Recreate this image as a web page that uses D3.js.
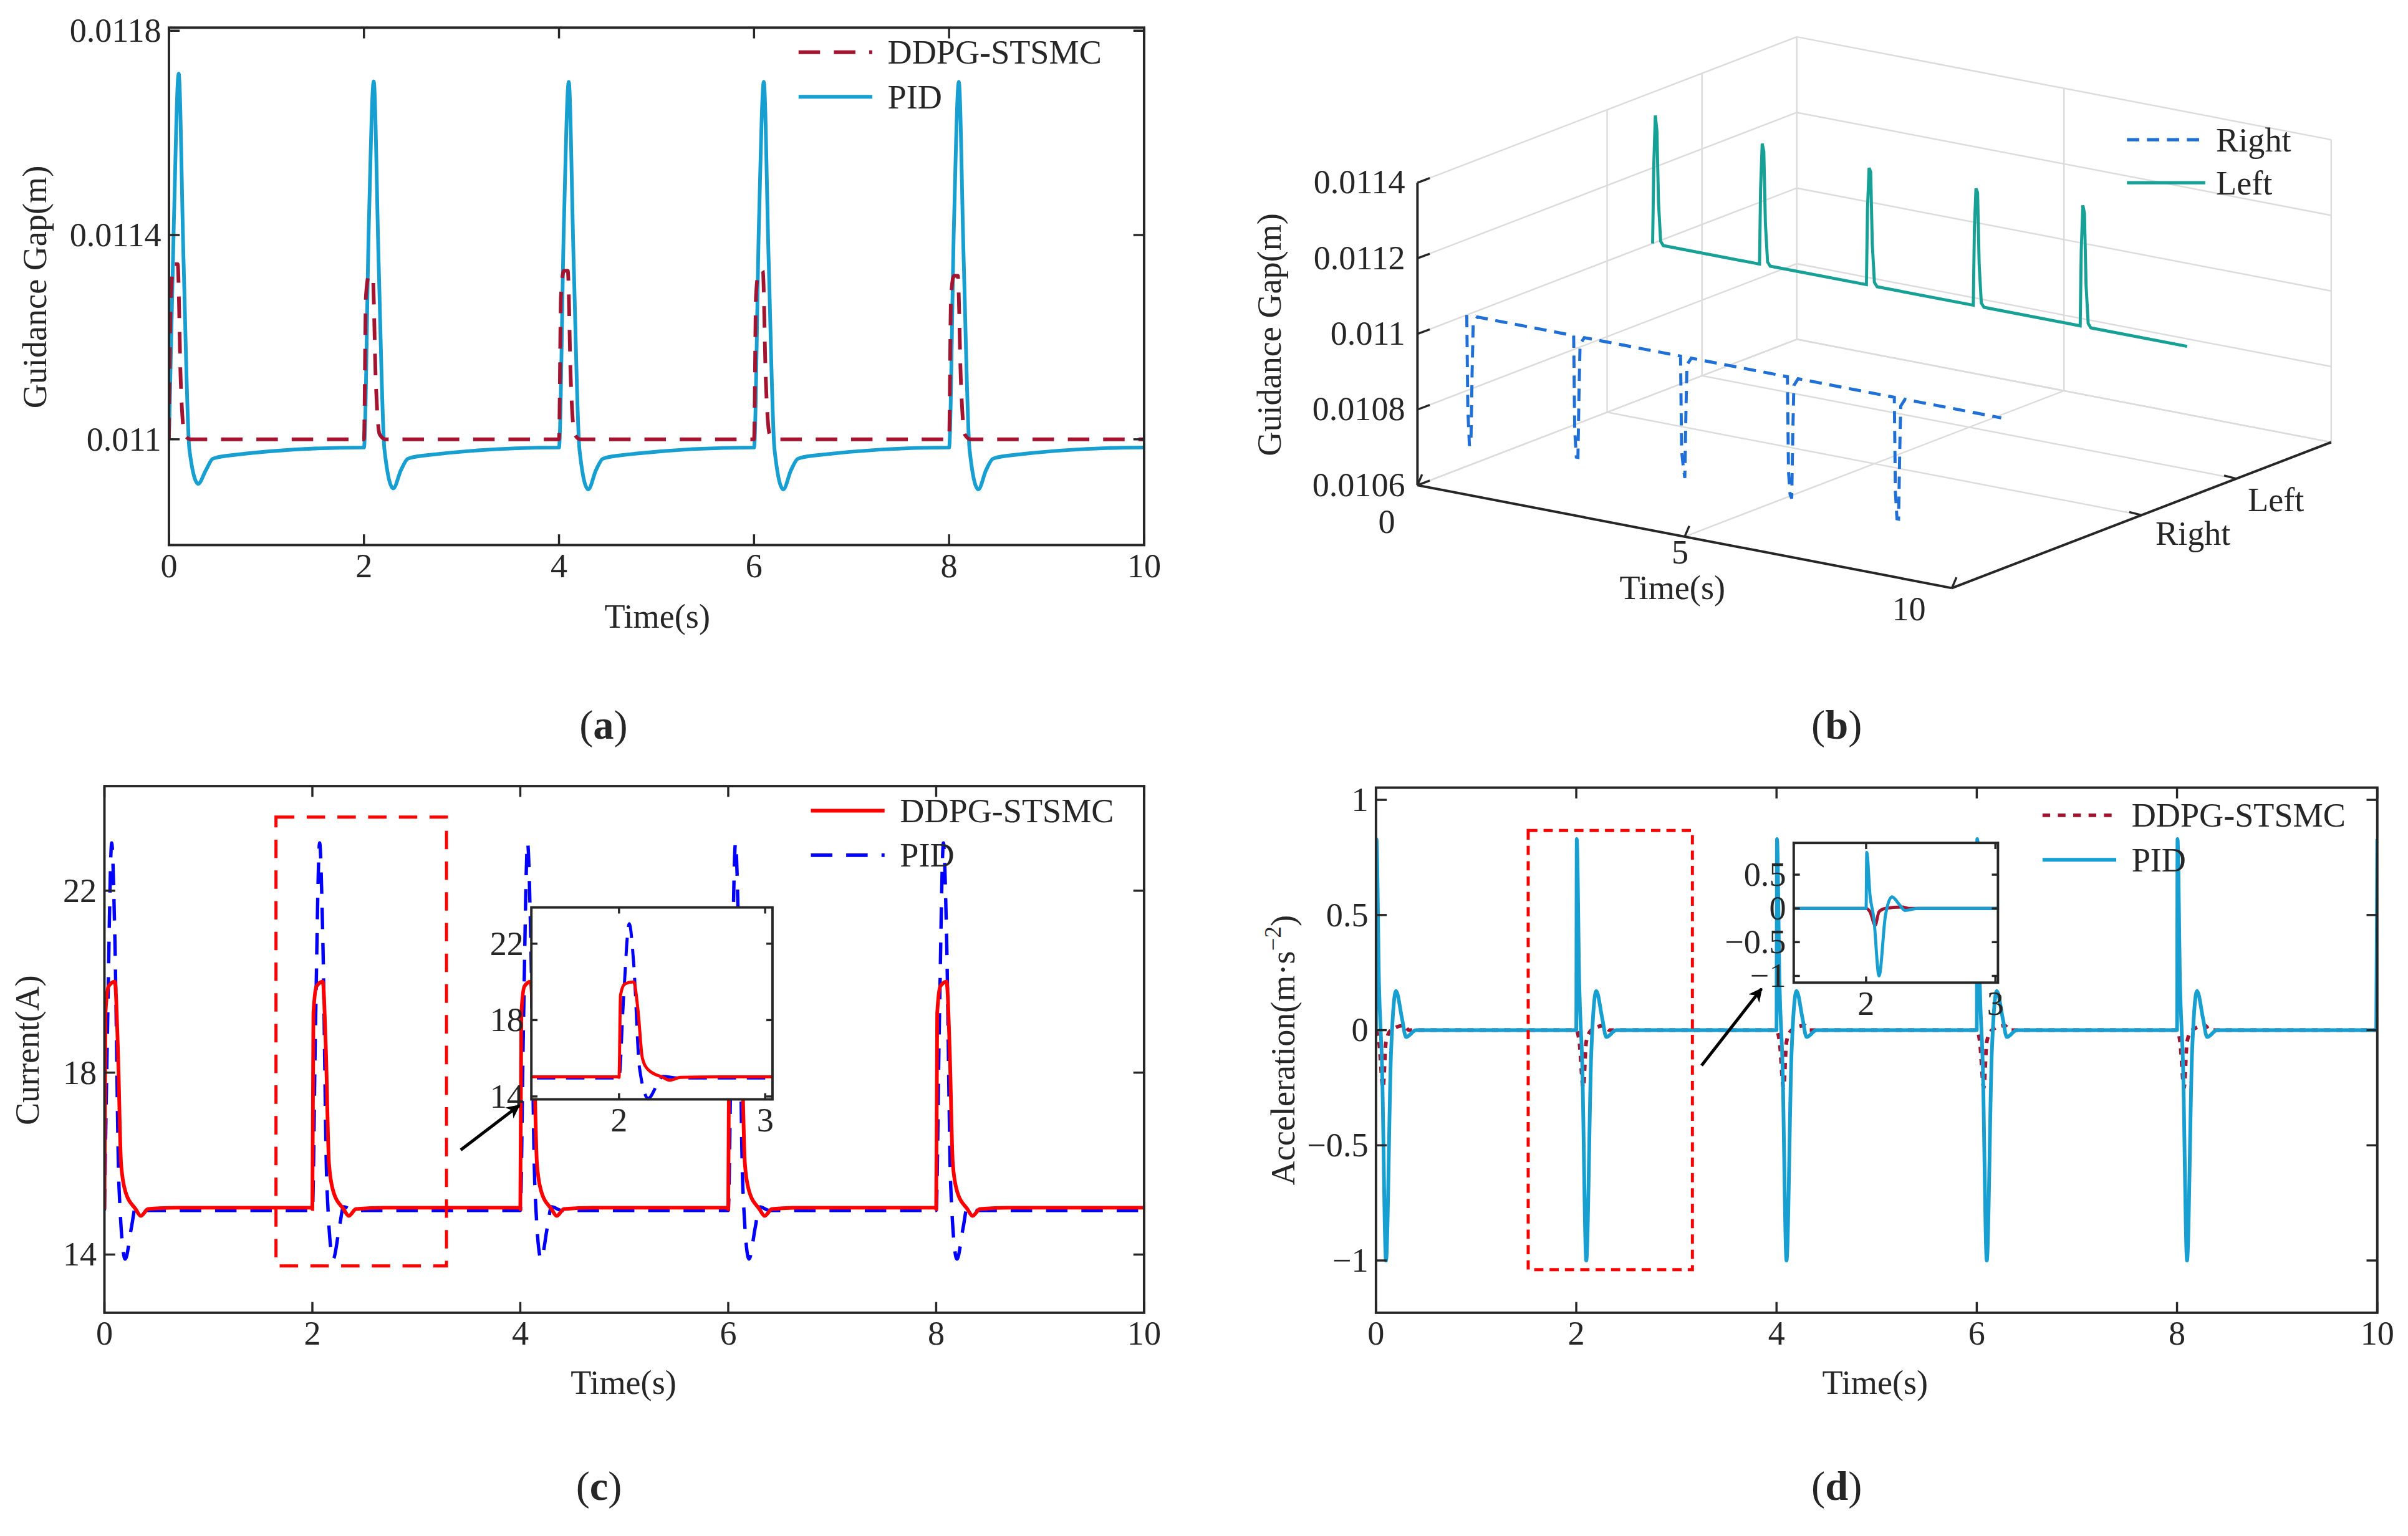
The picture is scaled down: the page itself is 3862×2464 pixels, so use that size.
<!DOCTYPE html>
<html>
<head>
<meta charset="utf-8">
<script src="https://cdn.jsdelivr.net/npm/d3@7"></script>
<style>
  html, body { margin: 0; padding: 0; background: #fff; }
  text { font-family: "Liberation Serif", "Times New Roman", serif; fill: #262626; }
</style>
</head>
<body>
<div id="chart"></div>
<script>
// ---- data ----
const pulseStarts = [0, 2, 4, 6, 8];
const timeTicks = [0, 2, 4, 6, 8, 10];

// (a) guidance gap
const gapDdpgOffsets = [0, 0.02, 0.05, 0.09, 0.12, 0.16, 0.22];
const gapDdpgValues  = [0.011, 0.01128, 0.01133, 0.01133, 0.01112, 0.01101, 0.011];
const gapDdpgPeaks   = [0.011343, 0.01132, 0.01133, 0.01133, 0.01132];
const gapPidOffsets  = [0, 0.05, 0.1, 0.15, 0.21, 0.3, 0.38, 0.45, 0.6, 1.99];
const gapPidValues   = [0.010984, 0.01142, 0.0117, 0.01135, 0.01098, 0.01091, 0.01094, 0.010962, 0.010968, 0.010984];
const gapPidPeaks    = [0.011716, 0.011701, 0.0117, 0.0117, 0.0117];
const gapPidMins     = [0.010913, 0.010904, 0.010902, 0.010902, 0.010902];
const gapTicks = [0.011, 0.0114, 0.0118];

// (b) 3D left / right gaps
const rightOffsets = [0, 0.02, 0.05, 0.08, 0.1, 0.12, 0.2];
const rightValues  = [0.011, 0.01075, 0.01067, 0.01068, 0.01085, 0.01098, 0.011];
const rightDips    = [0.010655, 0.01068, 0.01071, 0.01069, 0.01068];
const leftOffsets  = [0, 0.02, 0.05, 0.08, 0.11, 0.15, 0.2];
const leftValues   = [0.011, 0.0112, 0.01133, 0.0113, 0.01111, 0.01101, 0.011];
const leftPeaks    = [0.01134, 0.01132, 0.01131, 0.01131, 0.01132];
const gap3dTicks = [0.0106, 0.0108, 0.011, 0.0112, 0.0114];
const sideLabels = ["Right", "Left"];

// (c) current
const curDdpgOffsets = [0, 0.01, 0.04, 0.1, 0.13, 0.16, 0.2, 0.3, 0.35, 0.42, 0.7, 1.99];
const curDdpgValues  = [15.0, 19.3, 19.9, 20.0, 18.5, 16.0, 15.4, 15.0, 14.85, 15.0, 15.03, 15.03];
const curPidOffsets  = [0, 0.03, 0.07, 0.1, 0.14, 0.2, 0.26, 0.3, 0.4, 1.99];
const curPidValues   = [14.97, 19.0, 23.05, 21.0, 15.5, 13.9, 14.6, 15.05, 14.97, 14.97];
const curTicks = [14, 18, 22];

// (d) acceleration
const accPidOffsets  = [0, 0.005, 0.03, 0.06, 0.1, 0.15, 0.2, 0.26, 0.3, 0.4, 1.99];
const accPidValues   = [0, 0.83, 0.2, -0.15, -1.0, -0.1, 0.17, 0.05, -0.03, 0, 0];
const accDdpgOffsets = [0, 0.03, 0.07, 0.1, 0.15, 0.28, 0.33, 1.99];
const accDdpgValues  = [0, -0.05, -0.25, -0.05, 0, 0.02, 0, 0];
const accTicks = [-1, -0.5, 0, 0.5, 1];

// ---- helpers ----
function buildSeries(offsets, values, override) {
  const pts = [];
  pulseStarts.forEach((s, i) => {
    offsets.forEach((o, j) => {
      let v = values[j];
      if (override) override.forEach(ov => { if (ov.index === j) v = ov.list[i]; });
      if (s + o <= 10) pts.push([s + o, v]);
    });
  });
  return pts;
}

const gapDdpg = buildSeries(gapDdpgOffsets, gapDdpgValues, [{index: 2, list: gapDdpgPeaks}, {index: 3, list: gapDdpgPeaks}]);
const gapPid = buildSeries(gapPidOffsets, gapPidValues, [{index: 2, list: gapPidPeaks}, {index: 5, list: gapPidMins}]);
gapPid[0][1] = 0.011;
gapPid.push([10, 0.010984]);
gapDdpg.push([10, 0.011]);
const rightSeries = buildSeries(rightOffsets, rightValues, [{index: 2, list: rightDips}]);
const leftSeries = buildSeries(leftOffsets, leftValues, [{index: 2, list: leftPeaks}]);
rightSeries.push([10, 0.011]); leftSeries.push([10, 0.011]);
const curDdpg = buildSeries(curDdpgOffsets, curDdpgValues);
const curPid = buildSeries(curPidOffsets, curPidValues);
curDdpg.push([10, 15.03]); curPid.push([10, 14.97]);
const accPid = buildSeries(accPidOffsets, accPidValues);
const accDdpg = buildSeries(accDdpgOffsets, accDdpgValues);
accPid.push([10, 0.83]); accDdpg.push([10, 0]);

const W = 1568, H = 1000.4;
const svg = d3.select('#chart').append('svg')
  .attr('width', 3862).attr('height', 2464)
  .attr('viewBox', `0 0 ${W} ${H}`);
const defs = svg.append('defs');
const FS = 22;
const axisColor = '#262626';

defs.append('marker').attr('id', 'arr').attr('viewBox', '0 0 10 10').attr('refX', 9).attr('refY', 5)
  .attr('markerWidth', 9).attr('markerHeight', 9).attr('markerUnits', 'userSpaceOnUse')
  .attr('orient', 'auto')
  .append('path').attr('d', 'M0,0 L10,5 L0,10 L3,5 Z').attr('fill', '#000');

function boxAxes(g, x, y, opts) {
  const [x0, x1] = x.range(), [y1, y0] = y.range();
  const ts = opts.tickSize || 7;
  const fs = opts.fontSize || FS;
  const fmt = opts.yFormat || (d => d);
  g.append('rect').attr('x', x0).attr('y', y0).attr('width', x1 - x0).attr('height', y1 - y0)
    .attr('fill', 'none').attr('stroke', axisColor).attr('stroke-width', 1.6);
  opts.xTicks.forEach(t => {
    const px = x(t);
    g.append('line').attr('x1', px).attr('x2', px).attr('y1', y1).attr('y2', y1 - ts).attr('stroke', axisColor).attr('stroke-width', 1.4);
    g.append('line').attr('x1', px).attr('x2', px).attr('y1', y0).attr('y2', y0 + ts).attr('stroke', axisColor).attr('stroke-width', 1.4);
    g.append('text').attr('x', px).attr('y', y1 + fs * 0.95).attr('text-anchor', 'middle')
      .attr('font-size', fs).text(t);
  });
  opts.yTicks.forEach(t => {
    const py = y(t);
    g.append('line').attr('x1', x0).attr('x2', x0 + ts).attr('y1', py).attr('y2', py).attr('stroke', axisColor).attr('stroke-width', 1.4);
    g.append('line').attr('x1', x1).attr('x2', x1 - ts).attr('y1', py).attr('y2', py).attr('stroke', axisColor).attr('stroke-width', 1.4);
    g.append('text').attr('x', x0 - 5).attr('y', py + fs * 0.33).attr('text-anchor', 'end')
      .attr('font-size', fs).text(fmt(t));
  });
}

function drawLine(g, data, x, y, color, width, dash, clipId) {
  const line = d3.line().x(d => x(d[0])).y(d => y(d[1])).curve(d3.curveMonotoneX);
  const p = g.append('path').datum(data).attr('d', line).attr('fill', 'none')
    .attr('stroke', color).attr('stroke-width', width);
  if (dash) p.attr('stroke-dasharray', dash);
  if (clipId) p.attr('clip-path', `url(#${clipId})`);
  return p;
}

function clip(id, x, y) {
  const [x0, x1] = x.range(), [y1, y0] = y.range();
  defs.append('clipPath').attr('id', id).append('rect')
    .attr('x', x0).attr('y', y0).attr('width', x1 - x0).attr('height', y1 - y0);
}

function legend(g, x, y, items) {
  items.forEach((it, i) => {
    const yy = y + i * 29;
    const l = g.append('line').attr('x1', x).attr('x2', x + 48).attr('y1', yy).attr('y2', yy)
      .attr('stroke', it.color).attr('stroke-width', it.width || 2.4);
    if (it.dash) l.attr('stroke-dasharray', it.dash);
    g.append('text').attr('x', x + 58).attr('y', yy + 7.5).attr('font-size', FS).text(it.label);
  });
}

function ylabel(g, x, y, text) {
  return g.append('text').attr('transform', `translate(${x},${y}) rotate(-90)`)
    .attr('text-anchor', 'middle').attr('font-size', FS).text(text);
}

function caption(g, x, y, letter) {
  const t = g.append('text').attr('x', x).attr('y', y).attr('text-anchor', 'middle').attr('font-size', 27);
  t.append('tspan').text('(');
  t.append('tspan').attr('font-weight', 'bold').text(letter);
  t.append('tspan').text(')');
}

const dred = '#a2142f', cyan = '#169fd0';
const minusFmt = d => d < 0 ? '\u2212' + Math.abs(d) : d;

// ---- (a) ----
{
  const g = svg.append('g');
  const x = d3.scaleLinear([0, 10], [110, 745]);
  const y = d3.scaleLinear([0.010793, 0.011806], [355, 18]);
  clip('clipA', x, y);
  drawLine(g, gapPid, x, y, cyan, 2.4, null, 'clipA');
  drawLine(g, gapDdpg, x, y, dred, 2.4, '14,9', 'clipA');
  boxAxes(g, x, y, {xTicks: timeTicks, yTicks: gapTicks, yFormat: d3.format('.4~f')});
  legend(g, 520, 34, [{label: 'DDPG-STSMC', color: dred, dash: '14,9'}, {label: 'PID', color: cyan}]);
  g.append('text').attr('x', 428).attr('y', 409).attr('text-anchor', 'middle').attr('font-size', FS).text('Time(s)');
  ylabel(g, 30, 187, 'Guidance Gap(m)');
  caption(g, 393, 481, 'a');
}

// ---- (b) 3D ----
{
  const g = svg.append('g');
  const origin = [923, 316];
  const tVec = [348, 67], sVec = [247, -95], zVec = [0, -197];
  const ts = d3.scaleLinear([0, 10], [0, 1]);
  const zs = d3.scaleLinear([0.0106, 0.0114], [0, 1]);
  const sidePos = {Right: 0.13, Left: 0.62};
  const sideTick = {Right: 0.5, Left: 0.75};
  const P = (t, s, z) => [
    origin[0] + ts(t) * tVec[0] + s * sVec[0] + zs(z) * zVec[0],
    origin[1] + ts(t) * tVec[1] + s * sVec[1] + zs(z) * zVec[1]];
  const seg = (a, b, color, w) => g.append('line').attr('x1', a[0]).attr('y1', a[1]).attr('x2', b[0]).attr('y2', b[1])
    .attr('stroke', color).attr('stroke-width', w);
  const grid = '#dcdcdc';
  const zMin = 0.0106, zMax = 0.0114;
  const sGrid = [sideTick.Right, sideTick.Left, 1];
  [0, 5, 10].forEach(t => seg(P(t, 0, zMin), P(t, 1, zMin), grid, 1));
  sGrid.forEach(s => seg(P(0, s, zMin), P(10, s, zMin), grid, 1));
  gap3dTicks.forEach(z => seg(P(0, 0, z), P(0, 1, z), grid, 1));
  sGrid.forEach(s => seg(P(0, s, zMin), P(0, s, zMax), grid, 1));
  gap3dTicks.forEach(z => seg(P(0, 1, z), P(10, 1, z), grid, 1));
  [5, 10].forEach(t => seg(P(t, 1, zMin), P(t, 1, zMax), grid, 1));
  seg(P(0, 0, zMin), P(0, 0, zMax), axisColor, 1.6);
  seg(P(0, 0, zMin), P(10, 0, zMin), axisColor, 1.6);
  seg(P(10, 0, zMin), P(10, 1, zMin), axisColor, 1.6);
  gap3dTicks.forEach(z => {
    const p = P(0, 0, z);
    seg(p, [p[0] + 8, p[1] - 3], axisColor, 1.4);
    g.append('text').attr('x', p[0] - 8).attr('y', p[1] + 7).attr('text-anchor', 'end').attr('font-size', FS)
      .text(d3.format('.4~f')(z));
  });
  [0, 5, 10].forEach(t => {
    const p = P(t, 0, zMin);
    seg(p, [p[0] + 3, p[1] - 7], axisColor, 1.4);
  });
  g.append('text').attr('x', 903).attr('y', 347).attr('text-anchor', 'middle').attr('font-size', FS).text('0');
  g.append('text').attr('x', 1094).attr('y', 367).attr('text-anchor', 'middle').attr('font-size', FS).text('5');
  g.append('text').attr('x', 1243).attr('y', 404).attr('text-anchor', 'middle').attr('font-size', FS).text('10');
  g.append('text').attr('x', 1089).attr('y', 390).attr('text-anchor', 'middle').attr('font-size', FS).text('Time(s)');
  sideLabels.forEach(s => {
    const p = P(10, sideTick[s], zMin);
    seg(p, [p[0] - 8, p[1] - 2], axisColor, 1.4);
  });
  g.append('text').attr('x', 1428).attr('y', 355).attr('text-anchor', 'middle').attr('font-size', FS).text('Right');
  g.append('text').attr('x', 1482).attr('y', 333).attr('text-anchor', 'middle').attr('font-size', FS).text('Left');
  const line3 = s => d3.line().x(d => P(d[0], sidePos[s], d[1])[0]).y(d => P(d[0], sidePos[s], d[1])[1]);
  g.append('path').datum(rightSeries).attr('d', line3('Right')).attr('fill', 'none')
    .attr('stroke', '#1f6fd6').attr('stroke-width', 2).attr('stroke-dasharray', '8,5');
  g.append('path').datum(leftSeries).attr('d', line3('Left')).attr('fill', 'none')
    .attr('stroke', '#17a096').attr('stroke-width', 2);
  [{label: 'Right', color: '#1f6fd6', dash: '8,5'}, {label: 'Left', color: '#17a096'}].forEach((it, i) => {
    const yy = 91 + i * 28;
    const l = g.append('line').attr('x1', 1385).attr('x2', 1436).attr('y1', yy).attr('y2', yy)
      .attr('stroke', it.color).attr('stroke-width', 2.2);
    if (it.dash) l.attr('stroke-dasharray', it.dash);
    g.append('text').attr('x', 1443).attr('y', yy + 7.5).attr('font-size', FS).text(it.label);
  });
  ylabel(g, 834, 218, 'Guidance Gap(m)');
  caption(g, 1196, 481, 'b');
}

// ---- (c) ----
{
  const g = svg.append('g');
  const x = d3.scaleLinear([0, 10], [68, 745]);
  const y = d3.scaleLinear([12.72, 24.3], [855, 512]);
  clip('clipC', x, y);
  drawLine(g, curPid, x, y, '#0000ff', 2.2, '14,9', 'clipC');
  drawLine(g, curDdpg, x, y, '#ff0000', 2.4, null, 'clipC');
  boxAxes(g, x, y, {xTicks: timeTicks, yTicks: curTicks});
  g.append('rect').attr('x', x(1.65)).attr('y', y(23.62)).attr('width', x(3.29) - x(1.65)).attr('height', y(13.75) - y(23.62))
    .attr('fill', 'none').attr('stroke', '#ff0000').attr('stroke-width', 2).attr('stroke-dasharray', '12,8');
  legend(g, 528, 528, [{label: 'DDPG-STSMC', color: '#ff0000'}, {label: 'PID', color: '#0000ff', dash: '14,9'}]);
  const ix = d3.scaleLinear([1.4, 3.05], [346, 503]);
  const iy = d3.scaleLinear([13.85, 23.9], [716, 591]);
  clip('clipCi', ix, iy);
  g.append('rect').attr('x', 346).attr('y', 591).attr('width', 157).attr('height', 125).attr('fill', '#fff');
  drawLine(g, curPid, ix, iy, '#0000ff', 2, '12,7', 'clipCi');
  drawLine(g, curDdpg, ix, iy, '#ff0000', 2, null, 'clipCi');
  boxAxes(g, ix, iy, {xTicks: [2, 3], yTicks: curTicks, tickSize: 4});
  g.append('line').attr('x1', 300).attr('y1', 749).attr('x2', 338).attr('y2', 720)
    .attr('stroke', '#000').attr('stroke-width', 2).attr('marker-end', 'url(#arr)');
  g.append('text').attr('x', 406).attr('y', 908).attr('text-anchor', 'middle').attr('font-size', FS).text('Time(s)');
  ylabel(g, 25, 684, 'Current(A)');
  caption(g, 390, 977, 'c');
}

// ---- (d) ----
{
  const g = svg.append('g');
  const x = d3.scaleLinear([0, 10], [896, 1548]);
  const y = d3.scaleLinear([-1.227, 1.053], [855, 513]);
  clip('clipD', x, y);
  drawLine(g, accDdpg, x, y, dred, 2.4, '4,4', 'clipD');
  drawLine(g, accPid, x, y, cyan, 2.4, null, 'clipD');
  boxAxes(g, x, y, {xTicks: timeTicks, yTicks: accTicks, yFormat: minusFmt});
  g.append('rect').attr('x', x(1.52)).attr('y', y(0.867)).attr('width', x(3.16) - x(1.52)).attr('height', y(-1.04) - y(0.867))
    .attr('fill', 'none').attr('stroke', '#ff0000').attr('stroke-width', 2).attr('stroke-dasharray', '6,4');
  legend(g, 1330, 531, [{label: 'DDPG-STSMC', color: dred, dash: '5,5'}, {label: 'PID', color: cyan}]);
  const ix = d3.scaleLinear([1.44, 3.02], [1168, 1301]);
  const iy = d3.scaleLinear([-1.1, 0.97], [640, 549]);
  clip('clipDi', ix, iy);
  g.append('rect').attr('x', 1168).attr('y', 549).attr('width', 133).attr('height', 91).attr('fill', '#fff');
  drawLine(g, accDdpg, ix, iy, dred, 2, null, 'clipDi');
  drawLine(g, accPid, ix, iy, cyan, 2, null, 'clipDi');
  boxAxes(g, ix, iy, {xTicks: [2, 3], yTicks: [-1, -0.5, 0, 0.5], tickSize: 4, yFormat: minusFmt});
  g.append('line').attr('x1', 1108).attr('y1', 694).attr('x2', 1147).attr('y2', 644)
    .attr('stroke', '#000').attr('stroke-width', 2).attr('marker-end', 'url(#arr)');
  g.append('text').attr('x', 1221).attr('y', 908).attr('text-anchor', 'middle').attr('font-size', FS).text('Time(s)');
  const yl = g.append('text').attr('transform', 'translate(843,684) rotate(-90)')
    .attr('text-anchor', 'middle').attr('font-size', FS);
  yl.append('tspan').text('Acceleration(m\u00b7s');
  yl.append('tspan').attr('dy', -9).attr('font-size', 15).text('\u22122');
  yl.append('tspan').attr('dy', 9).text(')');
  caption(g, 1196, 977, 'd');
}
</script>
</body>
</html>
